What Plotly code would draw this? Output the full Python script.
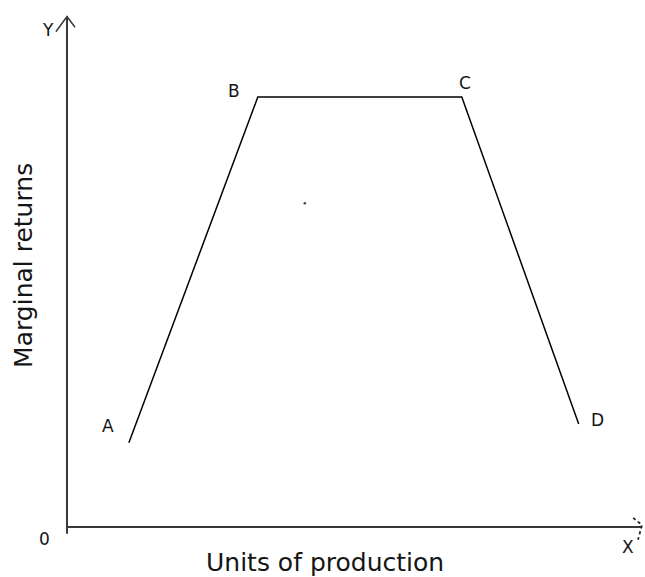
import plotly.graph_objects as go

# points of the marginal returns curve (arbitrary units, origin at 0)
point_labels = ["A", "B", "C", "D"]
units = [10.8, 33.3, 68.9, 89.3]
returns = [16.5, 84.3, 84.3, 20.2]

# stray dot in the middle of the sketch
dot_x = [41.5]
dot_y = [63.5]

fig = go.Figure()

# axes with open arrow heads
axis_color = "#383838"
fig.add_trace(go.Scatter(x=[0, 0], y=[-1.3, 100], mode="lines",
                         line=dict(color=axis_color, width=2), hoverinfo="skip"))
fig.add_trace(go.Scatter(x=[0, 100.3], y=[0, 0], mode="lines",
                         line=dict(color=axis_color, width=2), hoverinfo="skip"))
fig.add_trace(go.Scatter(x=[-1.94, 0, 1.4], y=[97.1, 100.1, 98.0], mode="lines",
                         line=dict(color=axis_color, width=1.5), hoverinfo="skip"))
fig.add_trace(go.Scatter(x=[98.8, 100.35, 99.65], y=[1.8, 0.4, -2.5], mode="lines",
                         line=dict(color="#222222", width=1.8, dash="dot"), hoverinfo="skip"))

# the curve
fig.add_trace(go.Scatter(x=units, y=returns, mode="lines",
                         line=dict(color="black", width=1.5), hoverinfo="skip"))
fig.add_trace(go.Scatter(x=dot_x, y=dot_y, mode="markers",
                         marker=dict(color="#444444", size=2.5), hoverinfo="skip"))

font = dict(family="DejaVu Sans", color="#151515")
label_pos = [(7.2, 19.8), (29.1, 85.5), (69.5, 87.1), (92.5, 21.0)]
for lab, (lx, ly) in zip(point_labels, label_pos):
    fig.add_annotation(x=lx, y=ly, text=lab, showarrow=False,
                       font=dict(size=17, **font))

fig.add_annotation(x=-3.3, y=97.5, text="Y", showarrow=False, font=dict(size=17, **font))
fig.add_annotation(x=97.9, y=-3.9, text="X", showarrow=False, font=dict(size=17, **font))
fig.add_annotation(x=-3.85, y=-2.35, text="0", showarrow=False, font=dict(size=17, **font))

fig.add_annotation(x=-7.5, y=51.2, text="Marginal returns", textangle=-90,
                   showarrow=False, font=dict(size=25, **font))
fig.add_annotation(x=45.1, y=-7.0, text="Units of production",
                   showarrow=False, font=dict(size=25, **font))

fig.update_layout(
    width=645, height=577,
    margin=dict(l=0, r=0, t=0, b=0),
    plot_bgcolor="white", paper_bgcolor="white",
    showlegend=False,
    xaxis=dict(range=[-11.69, 100.87], visible=False, fixedrange=True),
    yaxis=dict(range=[-9.80, 103.33], visible=False, fixedrange=True),
)

fig.write_html("out.html", config={"displayModeBar": False},
               post_script="document.body.style.margin='0px';")
